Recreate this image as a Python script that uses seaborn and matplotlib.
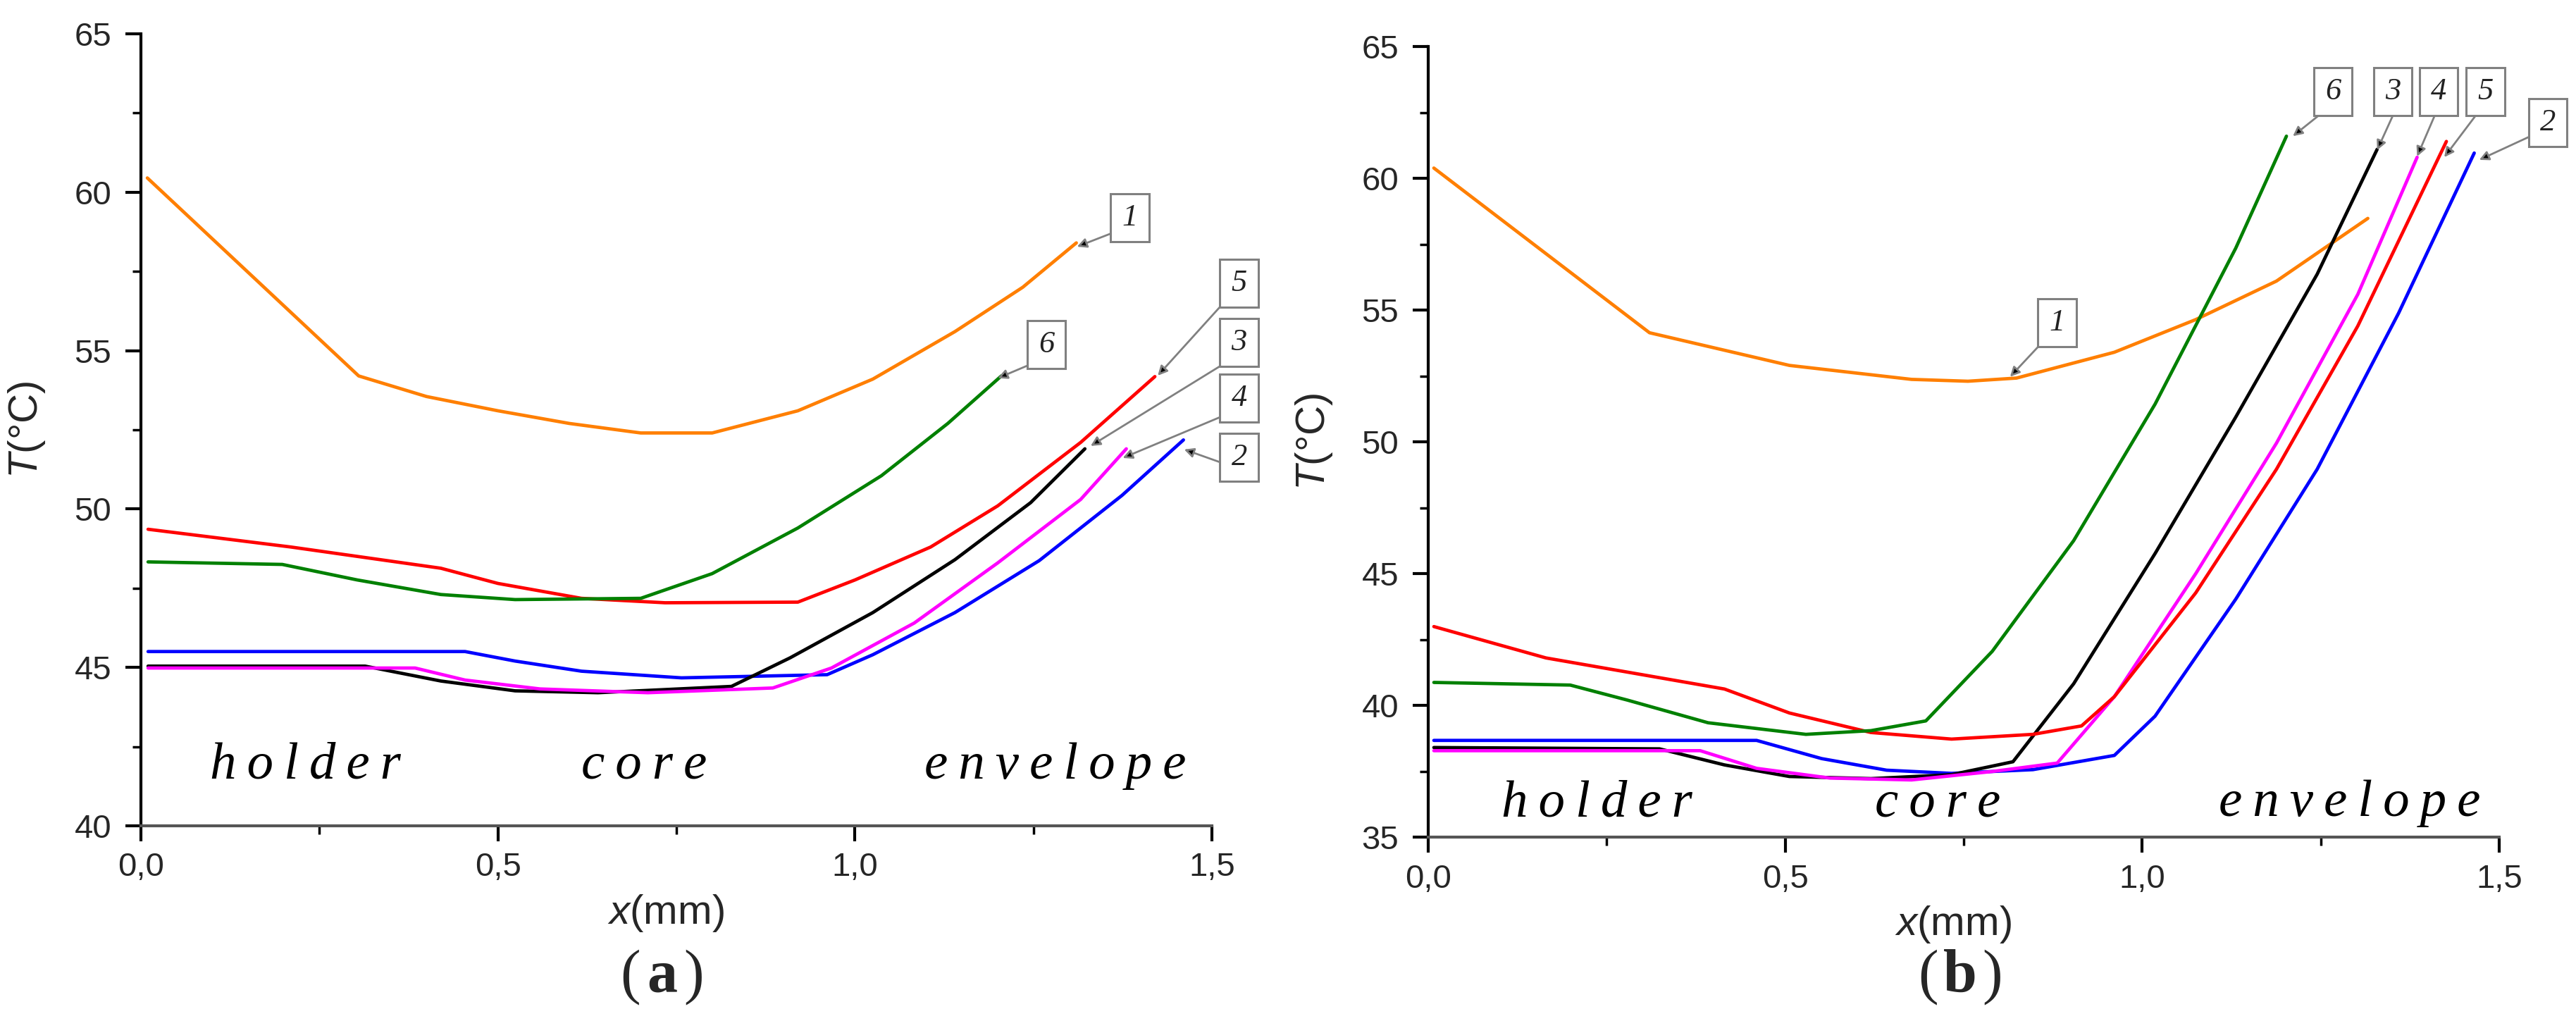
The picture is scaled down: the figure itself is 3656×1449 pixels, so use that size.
import matplotlib
matplotlib.use("Agg")
import matplotlib.pyplot as plt
import numpy as np
import pandas as pd
import seaborn as sns
from matplotlib.ticker import MultipleLocator, FuncFormatter
from matplotlib.patches import Rectangle

# ---------------- data ----------------
curve_ids = ["1", "2", "3", "4", "5", "6"]
curve_colors = ["#FF7F00", "#0000FF", "#000000", "#FF00FF", "#FF0000", "#008000"]

# panel (a)
a1_x = [0.009, 0.305, 0.40, 0.50, 0.60, 0.70, 0.80, 0.92, 1.025, 1.14, 1.235, 1.31]
a1_T = [60.45, 54.2, 53.55, 53.1, 52.7, 52.4, 52.4, 53.1, 54.1, 55.6, 57.0, 58.4]
a2_x = [0.01, 0.454, 0.524, 0.617, 0.757, 0.961, 1.025, 1.14, 1.258, 1.374, 1.46]
a2_T = [45.5, 45.5, 45.2, 44.88, 44.67, 44.77, 45.4, 46.73, 48.37, 50.43, 52.18]
a3_x = [0.01, 0.314, 0.42, 0.524, 0.64, 0.734, 0.827, 0.909, 1.025, 1.14, 1.246, 1.322]
a3_T = [45.04, 45.04, 44.57, 44.26, 44.2, 44.3, 44.4, 45.3, 46.73, 48.4, 50.2, 51.9]
a4_x = [0.01, 0.384, 0.454, 0.559, 0.71, 0.885, 0.967, 1.083, 1.2, 1.316, 1.38]
a4_T = [44.98, 44.98, 44.6, 44.32, 44.2, 44.35, 44.98, 46.4, 48.3, 50.3, 51.9]
a5_x = [0.01, 0.21, 0.42, 0.50, 0.617, 0.734, 0.92, 1.0, 1.106, 1.2, 1.316, 1.42]
a5_T = [49.36, 48.8, 48.13, 47.65, 47.18, 47.04, 47.06, 47.76, 48.8, 50.1, 52.1, 54.18]
a6_x = [0.01, 0.198, 0.303, 0.42, 0.524, 0.70, 0.80, 0.92, 1.037, 1.13, 1.205]
a6_T = [48.33, 48.25, 47.76, 47.3, 47.14, 47.18, 47.96, 49.4, 51.05, 52.7, 54.2]

# panel (b)
b1_x = [0.008, 0.31, 0.506, 0.677, 0.756, 0.824, 0.961, 1.075, 1.188, 1.316]
b1_T = [60.39, 54.14, 52.9, 52.37, 52.3, 52.42, 53.4, 54.64, 56.1, 58.48]
b2_x = [0.008, 0.46, 0.551, 0.642, 0.733, 0.847, 0.961, 1.018, 1.131, 1.245, 1.359, 1.465]
b2_T = [38.67, 38.67, 37.98, 37.54, 37.42, 37.56, 38.1, 39.59, 44.03, 48.96, 54.88, 60.96]
b3_x = [0.008, 0.324, 0.415, 0.506, 0.62, 0.733, 0.819, 0.904, 1.018, 1.131, 1.245, 1.329]
b3_T = [38.4, 38.35, 37.74, 37.3, 37.22, 37.37, 37.86, 40.82, 45.76, 50.94, 56.36, 61.1]
b4_x = [0.008, 0.381, 0.46, 0.563, 0.677, 0.79, 0.881, 0.961, 1.075, 1.188, 1.302, 1.385]
b4_T = [38.28, 38.28, 37.61, 37.24, 37.17, 37.49, 37.81, 40.33, 45.0, 49.95, 55.6, 60.8]
b5_x = [0.008, 0.165, 0.415, 0.506, 0.62, 0.733, 0.847, 0.915, 0.961, 1.075, 1.188, 1.302, 1.426]
b5_T = [42.99, 41.8, 40.62, 39.71, 38.97, 38.72, 38.9, 39.22, 40.33, 44.27, 48.96, 54.4, 61.4]
b6_x = [0.008, 0.199, 0.279, 0.392, 0.529, 0.62, 0.697, 0.79, 0.904, 1.018, 1.131, 1.202]
b6_T = [40.87, 40.77, 40.2, 39.34, 38.9, 39.04, 39.41, 42.05, 46.25, 51.43, 57.35, 61.6]

# annotation labels (box centre, arrow tip)
a_lab = ["1", "6", "5", "3", "4", "2"]
a_lab_x = [1.385, 1.268, 1.538, 1.538, 1.538, 1.538]
a_lab_T = [59.19, 55.2, 57.13, 55.26, 53.5, 51.63]
a_tip_x = [1.311, 1.2, 1.424, 1.33, 1.375, 1.461]
a_tip_T = [58.28, 54.13, 54.21, 51.99, 51.61, 51.88]

b_lab = ["6", "3", "4", "5", "2", "1"]
b_lab_x = [1.267, 1.351, 1.415, 1.481, 1.568, 0.881]
b_lab_T = [63.29, 63.29, 63.29, 63.29, 62.11, 54.51]
b_tip_x = [1.211, 1.329, 1.385, 1.423, 1.472, 0.815]
b_tip_T = [61.6, 61.07, 60.83, 60.8, 60.7, 52.47]

region_names = ["holder", "core", "envelope"]
a_region_x = [0.23, 0.705, 1.28]
b_region_x = [0.236, 0.714, 1.29]
a_region_T = 41.5
b_region_T = 35.8

x_ticks = [0.0, 0.5, 1.0, 1.5]
a_y_ticks = [40, 45, 50, 55, 60, 65]
b_y_ticks = [35, 40, 45, 50, 55, 60, 65]

panel_letters = ["a", "b"]
panel_letter_x = [0.257, 0.761]

# ---------------- style ----------------
sns.set_style("ticks")
plt.rcParams["font.family"] = ["Liberation Sans", "DejaVu Sans"]
plt.rcParams["mathtext.fontset"] = "custom"
plt.rcParams["mathtext.it"] = "Liberation Sans:italic"
plt.rcParams["mathtext.rm"] = "Liberation Sans"

palette = dict(zip(curve_ids, curve_colors))


def long_df(xs, ts):
    rows = []
    for cid, x, t in zip(curve_ids, xs, ts):
        for xv, tv in zip(x, t):
            rows.append((cid, xv, tv))
    return pd.DataFrame(rows, columns=["curve", "x", "T"])


df_a = long_df([a1_x, a2_x, a3_x, a4_x, a5_x, a6_x], [a1_T, a2_T, a3_T, a4_T, a5_T, a6_T])
df_b = long_df([b1_x, b2_x, b3_x, b4_x, b5_x, b6_x], [b1_T, b2_T, b3_T, b4_T, b5_T, b6_T])

fig = plt.figure(figsize=(36.56, 14.49), dpi=100)
ax_a = fig.add_axes([0.0547, 0.1912, 0.4158, 0.7757])
ax_b = fig.add_axes([0.5544, 0.1801, 0.4158, 0.7743])

comma = FuncFormatter(lambda v, p: f"{v:.1f}".replace(".", ","))
serif = ["Liberation Serif", "DejaVu Serif"]
thin = "\u2009"


def setup(ax, df, ylim, yticks, labs, lx, ly, tx, ty, rx, ry, box_h, fy_list, fx_list):
    sns.lineplot(data=df, x="x", y="T", hue="curve", palette=palette, estimator=None,
                 sort=False, legend=False, linewidth=3.4, ax=ax, units="curve")
    ax.set_xlim(0, 1.5)
    ax.set_ylim(*ylim)
    ax.set_xticks(x_ticks)
    ax.set_yticks(yticks)
    ax.xaxis.set_minor_locator(MultipleLocator(0.25))
    ax.yaxis.set_minor_locator(MultipleLocator(2.5))
    ax.xaxis.set_major_formatter(comma)
    for s in ["top", "right"]:
        ax.spines[s].set_visible(False)
    ax.spines["left"].set_linewidth(3)
    ax.spines["left"].set_color("black")
    ax.spines["bottom"].set_linewidth(3)
    ax.spines["bottom"].set_color("#555555")
    ax.tick_params(axis="both", which="major", direction="out", length=16, width=3,
                   labelsize=34, color="black")
    ax.tick_params(axis="both", which="minor", direction="out", length=8.5, width=2.5, color="black")
    ax.tick_params(axis="y", which="major", pad=14)
    ax.tick_params(axis="x", which="major", pad=11)
    ax.set_xlabel(r"$x$(mm)", fontsize=42, labelpad=0)
    ax.set_ylabel(r"$T$(°C)", fontsize=42, labelpad=28)
    ax.xaxis.set_label_coords(0.49, -0.085)

    # region texts
    for name, x in zip(region_names, rx):
        ax.text(x, ry, thin.join(name), fontsize=54, family=serif, style="italic",
                ha="center", va="baseline", color="black")

    # boxed curve labels with arrows
    box_w = 0.054
    for lab, x, y, xt, yt, fy, fx in zip(labs, lx, ly, tx, ty, fy_list, fx_list):
        rect = Rectangle((x - box_w / 2, y - box_h / 2), box_w, box_h, facecolor="white",
                         edgecolor="#808080", linewidth=2.2, clip_on=False, zorder=5)
        ax.add_patch(rect)
        ax.text(x, y, lab, fontsize=32, family=serif, style="italic", ha="center",
                va="center", zorder=6, color="#222222")
        sx = x - box_w / 2 + fx * box_w
        sy = y - box_h / 2 + fy * box_h
        ax.annotate("", xy=(xt, yt), xytext=(sx, sy), annotation_clip=False,
                    arrowprops=dict(arrowstyle="-|>,head_length=0.4,head_width=0.2",
                                    color="#808080", fc="black", lw=2.0,
                                    mutation_scale=20, shrinkA=0, shrinkB=0), zorder=4)


setup(ax_a, df_a, (40, 65), a_y_ticks, a_lab, a_lab_x, a_lab_T, a_tip_x, a_tip_T,
      a_region_x, a_region_T, 1.51, [0.17, 0.05, 0.0, 0.0, 0.1, 0.4],
      [0.0, 0.0, 0.0, 0.0, 0.0, 0.0])
setup(ax_b, df_b, (35, 65), b_y_ticks, b_lab, b_lab_x, b_lab_T, b_tip_x, b_tip_T,
      b_region_x, b_region_T, 1.82, [0.0, 0.0, 0.0, 0.0, 0.2, 0.0],
      [0.13, 0.5, 0.4, 0.24, 0.0, 0.0])

# panel captions: "(" + bold letter + ")"
for letter, xc in zip(panel_letters, panel_letter_x):
    fig.text(xc - 0.0085, 0.043, "(", fontsize=62, family=serif, ha="right", va="center")
    fig.text(xc, 0.043, letter, fontsize=62, family=serif, weight="bold", ha="center", va="center")
    fig.text(xc + 0.0085, 0.043, ")", fontsize=62, family=serif, ha="left", va="center")

fig.savefig("out.png", dpi=100, facecolor="white")
